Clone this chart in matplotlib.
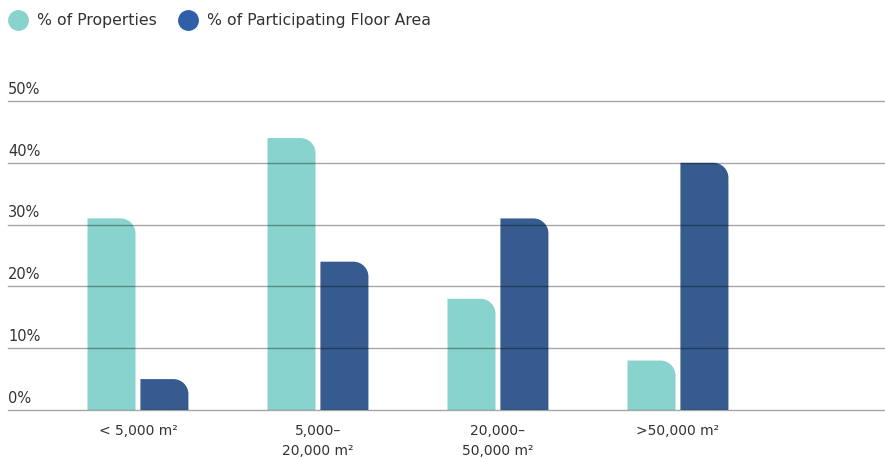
import numpy as np
import matplotlib.pyplot as plt
from matplotlib.path import Path
from matplotlib.patches import PathPatch

plt.rcParams['font.family'] = ['DejaVu Sans']

# Property size bands and shares
categories = ['< 5,000 m²', '5,000–\n20,000 m²', '20,000–\n50,000 m²', '>50,000 m²']
pct_properties = [31, 44, 18, 8]
pct_floor_area = [5, 24, 31, 40]
y_ticks = [0, 10, 20, 30, 40, 50]

teal = '#88d3cd'
navy = '#365b8f'
legend_navy = '#2f5fa8'
text_col = '#333333'

fig = plt.figure(figsize=(8.85, 4.59), dpi=100)
ax = fig.add_axes([8 / 885, 49 / 459, 877 / 885, 309 / 459])
ax.set_xlim(-0.722, -0.722 + 877 / 180)
ax.set_ylim(0, 50)

# corner radius in pixels -> data units
px_x = 180
px_y = 309 / 50
r_px = 15


def rounded_bar(ax, x0, w, h, color):
    rx = min(r_px / px_x, w / 2)
    ry = min(r_px / px_y, h)
    k = 0.5523
    x1 = x0 + w
    verts = [
        (x0, 0), (x0, h), (x1 - rx, h),
        (x1 - rx + k * rx, h), (x1, h - ry + k * ry), (x1, h - ry),
        (x1, 0), (x0, 0),
    ]
    codes = [Path.MOVETO, Path.LINETO, Path.LINETO,
             Path.CURVE4, Path.CURVE4, Path.CURVE4,
             Path.LINETO, Path.CLOSEPOLY]
    ax.add_patch(PathPatch(Path(verts, codes), facecolor=color,
                           edgecolor='none', zorder=2))


x = np.arange(len(categories))
bw = 48 / 180
off = 0.147
for i in range(len(categories)):
    rounded_bar(ax, x[i] - off - bw / 2, bw, pct_properties[i], teal)
    rounded_bar(ax, x[i] + off - bw / 2, bw, pct_floor_area[i], navy)

# gridlines drawn over the bars
for t in y_ticks:
    ax.axhline(t, color='black', alpha=0.35, lw=1.0, zorder=3, clip_on=False)
    ax.annotate(f'{t}%', xy=(0, t), xycoords=('axes fraction', 'data'),
                xytext=(0, 3), textcoords='offset points',
                ha='left', va='bottom', fontsize=10.5, color=text_col)

for s in ax.spines.values():
    s.set_visible(False)
ax.set_yticks([])
ax.set_xticks(x)
ax.set_xticklabels(categories, fontsize=10, color=text_col, linespacing=1.6)
ax.tick_params(axis='x', length=0, pad=10)

# legend
for cx, col, label in [(18, teal, '% of Properties'),
                       (188, legend_navy, '% of Participating Floor Area')]:
    fig.add_artist(plt.Line2D([cx / 885], [1 - 20 / 459], marker='o',
                              markersize=14, color=col, lw=0,
                              transform=fig.transFigure))
    fig.text((cx + 19) / 885, 1 - 20 / 459, label, ha='left', va='center',
             fontsize=11.3, color=text_col)

fig.savefig('out.png', dpi=100)
